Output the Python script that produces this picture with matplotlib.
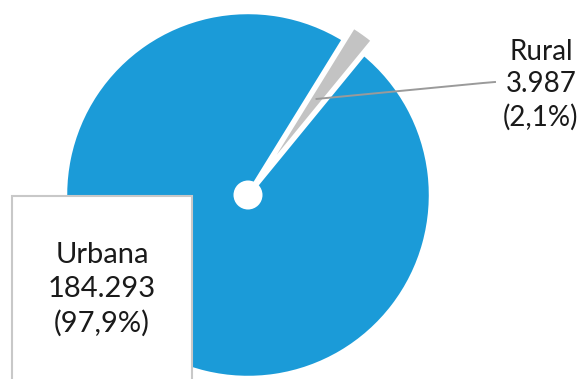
import numpy as np
import matplotlib
matplotlib.use("Agg")
import matplotlib.pyplot as plt
from matplotlib.patches import Rectangle, Circle

# data
categories = ["Urbana", "Rural"]
populations = [184293, 3987]
shares = ["97,9%", "2,1%"]
colors = ["#1b9bd8", "#c3c3c3"]

plt.rcParams['font.family'] = ['Lato', 'DejaVu Sans']

W, H = 581, 379
fig = plt.figure(figsize=(W / 100, H / 100), dpi=100)
ax = fig.add_axes([0, 0, 1, 1])

# pie geometry in pixel-like units (explode is in data units here)
cx, cy, R = 248, 184, 183
start = 58.3
wedges, _ = ax.pie(populations, colors=colors, startangle=start,
                   radius=R, center=(cx, cy), explode=[0, 16],
                   wedgeprops=dict(edgecolor="white", linewidth=3.2))

# white hole in the centre
ax.add_patch(Circle((cx, cy), 14.5, facecolor="white", edgecolor="none", zorder=5))

ax.set_xlim(0, W)
ax.set_ylim(0, H)
ax.set_aspect("equal")
ax.axis("off")

def fmt(v):
    return f"{v:,}".replace(",", ".")

# Urbana box
ax.add_patch(Rectangle((12, -20), 180, (H - 196) + 20, facecolor="white",
                       edgecolor="#c8c8c8", linewidth=1.5, zorder=6))
urb = [categories[0], fmt(populations[0]), "(" + shares[0] + ")"]
for i, s in enumerate(urb):
    ax.text(102, H - 255 - i * 34, s, ha="center", va="center",
            fontsize=21, color="#1a1a1a", zorder=7)

# Rural label with leader line
mid = np.deg2rad(wedges[1].theta1 + (wedges[1].theta2 - wedges[1].theta1) / 2)
r0 = 118
ax.plot([cx + r0 * np.cos(mid), 483, 495], [cy + r0 * np.sin(mid), H - 83, H - 82],
        color="#9a9a9a", linewidth=1.4, zorder=4)
rur = [categories[1], fmt(populations[1]), "(" + shares[1] + ")"]
for i, s in enumerate(rur):
    ax.text(541, H - 52 - i * 32.5, s, ha="center", va="center",
            fontsize=20, color="#1a1a1a", zorder=7)

fig.savefig("out.png", dpi=100)
